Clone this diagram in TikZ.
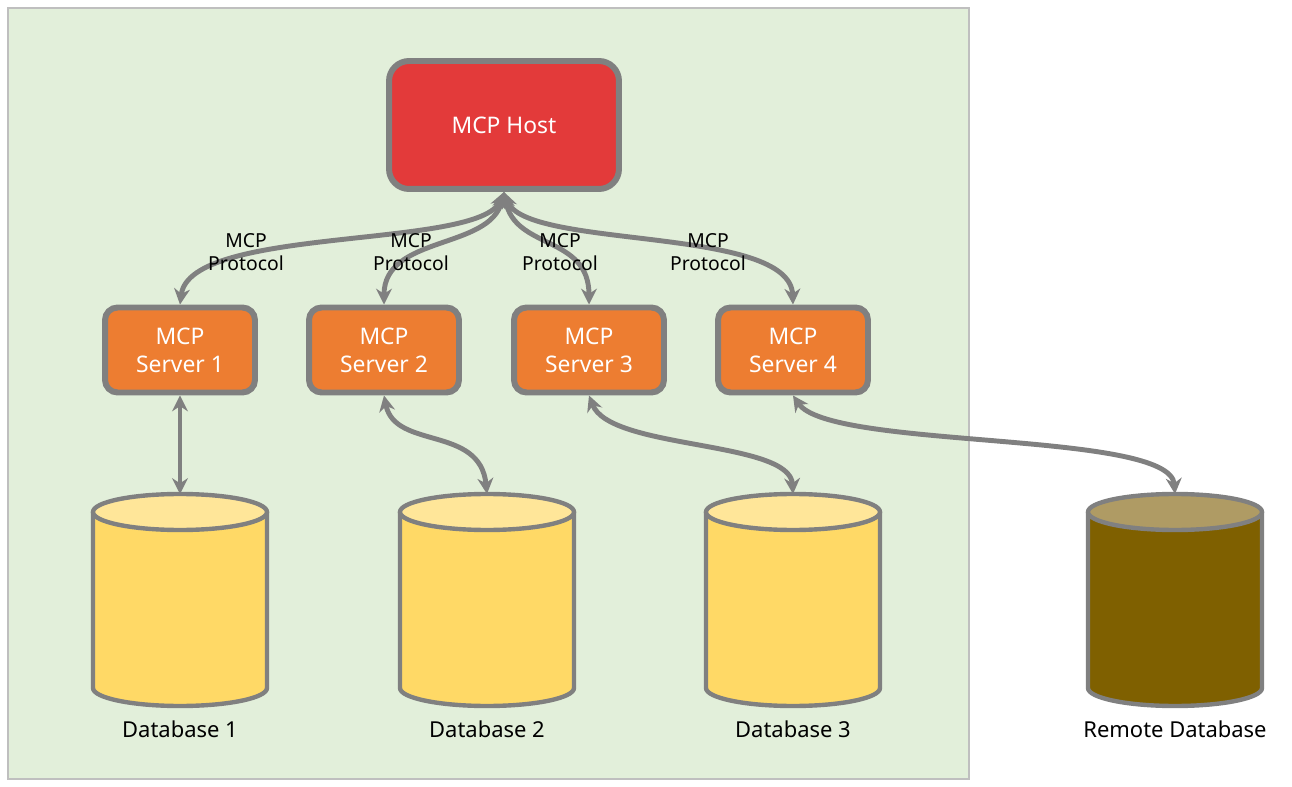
\documentclass[tikz,border=0pt]{standalone}
\usepackage{fontspec}
\setmainfont{Noto Sans}
\usetikzlibrary{arrows.meta}
\definecolor{bggreen}{RGB}{226,239,218}
\definecolor{bgline}{RGB}{191,191,191}
\definecolor{edge}{RGB}{128,128,128}
\definecolor{hostred}{RGB}{227,58,58}
\definecolor{srvorange}{RGB}{237,125,49}
\definecolor{dbbody}{RGB}{255,217,102}
\definecolor{dbtop}{RGB}{255,230,153}
\definecolor{rbody}{RGB}{127,96,0}
\definecolor{rtop}{RGB}{175,155,100}
\tikzset{
  host/.style={draw=edge,line width=3.4pt,fill=hostred,rounded corners=0.4cm,minimum width=4.6cm,minimum height=2.56cm,text=white,font=\fontsize{13}{15}\selectfont},
  server/.style={draw=edge,line width=3.4pt,fill=srvorange,rounded corners=0.25cm,minimum width=3.0cm,minimum height=1.7cm,text=white,align=center,font=\fontsize{13}{16}\selectfont},
  link/.style={draw=edge,line width=2.8pt,{Stealth[length=9pt,width=9pt]}-{Stealth[length=9pt,width=9pt]}},
  proto/.style={align=center,font=\fontsize{11}{13}\selectfont},
  dblabel/.style={font=\fontsize{12.5}{14}\selectfont}
}
% database cylinder: #1 centre x, #2 body colour, #3 top colour
\newcommand{\dbcyl}[3]{%
  \fill[#2] (#1-87,512) -- (#1-87,688) arc[start angle=180,end angle=360,x radius=87,y radius=-18] -- (#1+87,512) -- cycle;
  \draw[edge,line width=2.5pt] (#1-87,512) -- (#1-87,688) arc[start angle=180,end angle=360,x radius=87,y radius=-18] -- (#1+87,512);
  \draw[edge,line width=2.5pt,fill=#3] (#1,512) ellipse[x radius=87,y radius=18];
}
\begin{document}
\begin{tikzpicture}[x=0.02cm,y=-0.02cm]
\useasboundingbox (0,0) rectangle (1292,787);
\draw[bgline,fill=bggreen,line width=1.5pt] (8,8) rectangle (969,779);

\node[host] (host) at (504,125) {MCP Host};
\node[server] (s1) at (180,350) {MCP\\Server 1};
\node[server] (s2) at (384,350) {MCP\\Server 2};
\node[server] (s3) at (589,350) {MCP\\Server 3};
\node[server] (s4) at (793,350) {MCP\\Server 4};

\dbcyl{180}{dbbody}{dbtop}
\dbcyl{487}{dbbody}{dbtop}
\dbcyl{793}{dbbody}{dbtop}
\dbcyl{1175}{rbody}{rtop}
\coordinate (db1) at (180,494);
\coordinate (db2) at (487,494);
\coordinate (db3) at (793,494);
\coordinate (db4) at (1175,494);

\node[dblabel] (l1) at (180,729) {Database 1};
\node[dblabel] (l2) at (487,729) {Database 2};
\node[dblabel] (l3) at (793,729) {Database 3};
\node[dblabel] (l4) at (1175,729) {Remote Database};

\draw[link] (host.south) .. controls (480,250) and (190,225) .. (s1.north);
\draw[link] (host.south) .. controls (490,250) and (384,235) .. (s2.north);
\draw[link] (host.south) .. controls (515,250) and (589,235) .. (s3.north);
\draw[link] (host.south) .. controls (525,250) and (790,225) .. (s4.north);

\node[proto] (p1) at (246,252) {MCP\\Protocol};
\node[proto] (p2) at (411,252) {MCP\\Protocol};
\node[proto] (p3) at (560,252) {MCP\\Protocol};
\node[proto] (p4) at (708,252) {MCP\\Protocol};

\draw[link] (s1.south) -- (db1);
\draw[link] (s2.south) .. controls (395,450) and (480,425) .. (db2);
\draw[link] (s3.south) .. controls (610,450) and (790,440) .. (db3);
\draw[link] (s4.south) .. controls (830,450) and (1170,430) .. (db4);
\end{tikzpicture}
\end{document}
